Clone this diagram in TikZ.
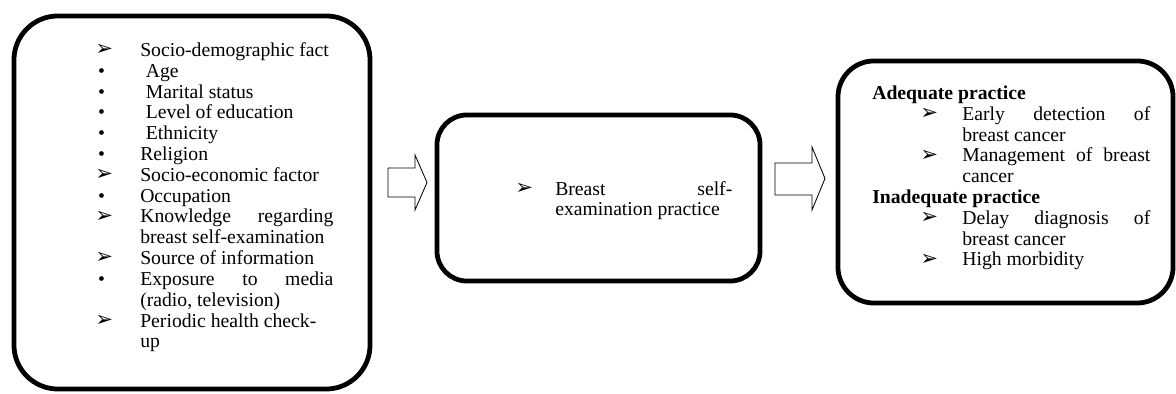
\documentclass[tikz,border=0pt]{standalone}
\usepackage{fontspec}
\setmainfont{Liberation Serif}
\newfontfamily\symfont{DejaVu Sans}
\newcommand{\arw}{{\symfont\fontsize{15}{15}\selectfont\raisebox{0.5pt}{➢}}}
\newcommand{\dotm}{\hspace*{2pt}•}
\newcommand{\sub}{\hspace*{1.2cm}\arw}

\begin{document}
\begin{tikzpicture}[x=0.025cm, y=-0.025cm,
    box/.style={draw, line width=3.4pt, rounded corners=#1, inner sep=0pt},
    list/.style={inner sep=0pt, anchor=base west, font=\fontsize{14}{14.8}\selectfont},
    hollow/.style={draw, line width=0.6pt, line join=miter}]
			%%%%% START %%%%%
			\useasboundingbox (0,0) rectangle (1176,394);
			
			% boxes
			\node[box=1.1cm, minimum width=8.9cm, minimum height=9.325cm] (factors) at (192,202.5) {};
			\node[box=0.75cm, minimum width=8.075cm, minimum height=4.15cm] (practice) at (598.5,198) {};
			\node[box=0.9cm, minimum width=8.375cm, minimum height=6.05cm] (outcome) at (1005.5,182) {};
			
			% block arrows
			\draw[hollow] (388,168) -- (415,168) -- (415,155) -- (427,182.5) -- (415,210) -- (415,197) -- (388,197) -- cycle;
			\draw[hollow] (775,163) -- (812,163) -- (812,147) -- (825,178.5) -- (812,210) -- (812,195) -- (775,195) -- cycle;
			
			% texts
			\node[list] (factorlist) at (95,56.5) {\begin{tabular}[t]{@{}p{1.125cm}@{}p{4.825cm}@{}}
				\arw & Socio-demographic fact\\
				\dotm & \hspace*{4pt}Age\\
				\dotm & \hspace*{4pt}Marital status\\
				\dotm & \hspace*{4pt}Level of education\\
				\dotm & \hspace*{4pt}Ethnicity\\
				\dotm & Religion\\
				\arw & Socio-economic factor\\
				\dotm & Occupation\\
				\arw & Knowledge\hfill regarding\newline breast self-examination\\
				\arw & Source of information\\
				\dotm & Exposure\hfill to\hfill media\newline (radio, television)\\
				\arw & Periodic health check-\newline up
			\end{tabular}};
			
			\node[list] (practicelist) at (515,195) {\begin{tabular}[t]{@{}p{1cm}@{}p{4.425cm}@{}}
				\arw & Breast\hfill self-\newline examination practice
			\end{tabular}};
			
			\node[list] (outcomelist) at (872,99.5) {\begin{tabular}[t]{@{}p{2.25cm}@{}p{4.7cm}@{}}
				\multicolumn{2}{@{}l@{}}{\bfseries Adequate practice}\\
				\sub & Early\hfill detection\hfill of\newline breast cancer\\
				\sub & Management\hfill of\hfill breast\newline cancer\\
				\multicolumn{2}{@{}l@{}}{\bfseries Inadequate practice}\\
				\sub & Delay\hfill diagnosis\hfill of\newline breast cancer\\
				\sub & High morbidity
			\end{tabular}};
			
			%%%%% END %%%%%
		\end{tikzpicture}
\end{document}
